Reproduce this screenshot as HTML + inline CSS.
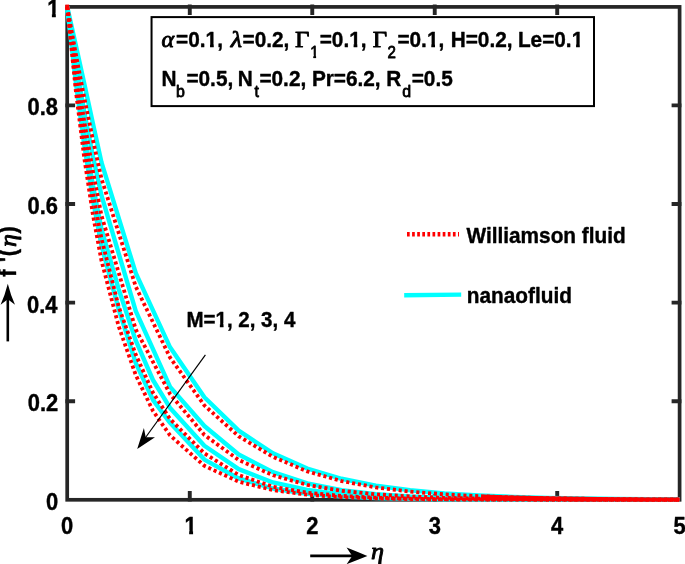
<!DOCTYPE html>
<html lang="en"><head><meta charset="utf-8"><title>Velocity profile f'(η) for different M</title>
<style>html,body{margin:0;padding:0;background:#fff}body{width:685px;height:564px;overflow:hidden}svg{display:block}text{font-family:"Liberation Sans",sans-serif;font-weight:bold;fill:#000;stroke:#000;stroke-width:0.4px;stroke-linejoin:round}.gi{font-family:"Liberation Serif",serif;font-style:italic;font-weight:bold}.gu{font-family:"Liberation Serif",serif;font-weight:normal;stroke-width:0.9px}.gub{font-family:"Liberation Serif",serif;font-weight:bold}.gr{font-family:"Liberation Serif",serif;font-style:italic;font-weight:normal;stroke-width:0.85px}.sub{font-weight:normal;stroke-width:0.8px}</style></head><body>
<svg width="685" height="564" viewBox="0 0 685 564">
<rect width="685" height="564" fill="#fff"/>
<defs><clipPath id="one"><path d="M-5 -90H70V-17H39V5H21.3V-17H-5Z"/></clipPath></defs>
<g stroke="#262626" stroke-width="3.7" fill="none" stroke-linecap="butt">
<rect x="67.20" y="6.90" width="612.40" height="492.90"/>
</g><g stroke="#262626" stroke-width="3.9" fill="none" stroke-linecap="butt">
<path d="M189.78 501.60V491.00 M189.78 4.60V15.10"/>
<path d="M312.26 501.60V491.00 M312.26 4.60V15.10"/>
<path d="M434.74 501.60V491.00 M434.74 4.60V15.10"/>
<path d="M557.22 501.60V491.00 M557.22 4.60V15.10"/>
<path d="M65.40 401.20H75.10 M681.40 401.20H671.60"/>
<path d="M65.40 302.60H75.10 M681.40 302.60H671.60"/>
<path d="M65.40 204.00H75.10 M681.40 204.00H671.60"/>
<path d="M65.40 105.40H75.10 M681.40 105.40H671.60"/>
</g>
<g fill="none" stroke-linejoin="round">
<polyline points="67.20,6.80 75.77,44.88 84.35,84.03 92.92,123.44 101.49,162.36 135.79,273.19 170.08,347.32 204.38,397.26 238.67,430.70 272.97,453.27 307.26,468.51 341.56,478.78 375.85,485.68 410.14,490.29 444.44,493.39 478.73,495.48 513.03,496.89 547.32,497.84 581.62,498.48 615.91,498.91 650.20,499.20 679.60,499.37" stroke="#00ffff" stroke-width="4.4"/>
<polyline points="67.20,6.80 75.77,62.78 84.35,112.41 92.92,156.40 101.49,195.40 135.79,311.11 170.08,386.83 204.38,426.03 238.67,454.49 272.97,472.11 307.26,483.45 341.56,490.27 375.85,494.30 410.14,496.46 444.44,497.77 478.73,498.57 513.03,499.05 547.32,499.35 581.62,499.53 615.91,499.63 650.20,499.70 679.60,499.73" stroke="#00ffff" stroke-width="4.4"/>
<polyline points="67.20,6.80 75.77,75.42 84.35,134.48 92.92,185.33 101.49,229.10 118.64,289.10 135.79,340.74 152.94,380.00 170.08,407.92 204.38,445.70 238.67,469.10 272.97,482.47 307.26,489.88 341.56,494.12 375.85,496.55 410.14,497.94 444.44,498.74 478.73,499.19 513.03,499.45 547.32,499.60 581.62,499.69 615.91,499.73 650.20,499.76 679.60,499.78" stroke="#00ffff" stroke-width="4.4"/>
<polyline points="67.20,6.80 75.77,82.02 84.35,145.76 92.92,199.78 101.49,245.55 118.64,309.06 135.79,363.06 152.94,399.87 170.08,422.84 204.38,459.60 238.67,478.45 272.97,488.49 307.26,493.77 341.56,496.59 375.85,498.09 410.14,498.89 444.44,499.31 478.73,499.54 513.03,499.66 547.32,499.73 581.62,499.76 615.91,499.78 650.20,499.79 679.60,499.79" stroke="#00ffff" stroke-width="4.4"/>
<polyline points="483.63,496.36 513.03,497.40 547.32,498.21 581.62,498.74 615.91,499.10 650.20,499.33 679.60,499.47" stroke="#ff0000" stroke-width="3.8"/>
<polyline points="67.20,6.80 75.77,53.82 84.35,98.22 92.92,139.86 101.49,178.68 135.79,286.73 170.08,357.59 204.38,405.41 238.67,436.31 272.97,456.80 307.26,471.38 341.56,481.05 375.85,487.45 410.14,491.60 444.44,494.36 478.73,496.19 513.03,497.40 547.32,498.21 581.62,498.74 615.91,499.10 650.20,499.33 679.60,499.47" stroke="#ff0000" stroke-width="3.8" stroke-dasharray="3.1 2.8"/>
<polyline points="67.20,6.80 75.77,67.16 84.35,121.92 92.92,171.30 101.49,215.58 135.79,329.49 170.08,394.08 204.38,434.94 238.67,460.02 272.97,475.23 307.26,484.89 341.56,490.76 375.85,494.31 410.14,496.47 444.44,497.78 478.73,498.58 513.03,499.06 547.32,499.35 581.62,499.53 615.91,499.63 650.20,499.70 679.60,499.73" stroke="#ff0000" stroke-width="3.8" stroke-dasharray="3.1 2.8"/>
<polyline points="67.20,6.80 75.77,79.18 84.35,140.94 92.92,193.65 101.49,238.63 118.64,306.56 135.79,354.77 152.94,392.62 170.08,419.07 204.38,453.35 238.67,474.98 272.97,486.73 307.26,492.67 341.56,495.90 375.85,497.67 410.14,498.64 444.44,499.17 478.73,499.45 513.03,499.61 547.32,499.70 581.62,499.74 615.91,499.77 650.20,499.78 679.60,499.79" stroke="#ff0000" stroke-width="3.8" stroke-dasharray="3.1 2.8"/>
<polyline points="67.20,6.80 75.77,90.26 84.35,158.58 92.92,214.66 101.49,260.81 118.64,326.19 135.79,375.19 152.94,410.83 170.08,435.45 204.38,465.81 238.67,481.74 272.97,490.06 307.26,494.74 341.56,497.17 375.85,498.43 410.14,499.09 444.44,499.43 478.73,499.61 513.03,499.70 547.32,499.75 581.62,499.77 615.91,499.79 650.20,499.79 679.60,499.80" stroke="#ff0000" stroke-width="3.8" stroke-dasharray="3.1 2.8"/>
<rect x="65.3" y="4.6" width="3.9" height="4.8" fill="#ff0000" stroke="none"/>
</g>
<g>
<g transform="translate(47.24 16.80) scale(0.9450 1)">
<g transform="translate(0.00 0) scale(0.2320)"><text font-size="100" clip-path="url(#one)" style="stroke-width:1.72px">1</text></g>
</g>
<text transform="translate(27.48 115.40) scale(0.9450 1)" font-size="23.20">0.8</text>
<text transform="translate(27.59 214.00) scale(0.9450 1)" font-size="23.20">0.6</text>
<text transform="translate(26.94 312.60) scale(0.9450 1)" font-size="23.20">0.4</text>
<text transform="translate(27.70 411.20) scale(0.9450 1)" font-size="23.20">0.2</text>
<text transform="translate(46.01 509.80) scale(0.9450 1)" font-size="23.20">0</text>
<text transform="translate(61.12 533.90) scale(0.9450 1)" font-size="23.20">0</text>
<g transform="translate(184.51 533.90) scale(0.9450 1)">
<g transform="translate(0.00 0) scale(0.2320)"><text font-size="100" clip-path="url(#one)" style="stroke-width:1.72px">1</text></g>
</g>
<text transform="translate(306.13 533.90) scale(0.9450 1)" font-size="23.20">2</text>
<text transform="translate(428.69 533.90) scale(0.9450 1)" font-size="23.20">3</text>
<text transform="translate(550.93 533.90) scale(0.9450 1)" font-size="23.20">4</text>
<text transform="translate(673.49 533.90) scale(0.9450 1)" font-size="23.20">5</text>
</g>
<rect x="151.55" y="17.1" width="442.45" height="89" fill="#fff" stroke="#000" stroke-width="2"/>
<g>
<text class="gr" transform="translate(161.48 47.40) scale(1.0400 1)" font-size="23.20">α</text>
<g transform="translate(176.12 47.40) scale(0.9450 1)">
<text x="0.00" y="0" font-size="22.00" xml:space="preserve" style="white-space:pre">=0.</text>
<g transform="translate(31.20 0) scale(0.2200)"><text font-size="100" clip-path="url(#one)" style="stroke-width:1.82px">1</text></g>
<text x="43.43" y="0" font-size="22.00" xml:space="preserve" style="white-space:pre">,</text>
</g>
<text class="gr" transform="translate(230.85 47.40) scale(1.1400 1)" font-size="22.70">λ</text>
<text transform="translate(242.52 47.40) scale(0.9450 1)" font-size="22.00">=0.2,</text>
<text class="gu" transform="translate(295.05 47.40) scale(1.0600 1)" font-size="23.50">Γ</text>
<g transform="translate(310.17 57.60) scale(0.9000 1)">
<g transform="translate(0.00 0) scale(0.1680)"><text class="sub" font-size="100" clip-path="url(#one)" style="stroke-width:4.76px">1</text></g>
</g>
<g transform="translate(319.72 47.40) scale(0.9450 1)">
<text x="0.00" y="0" font-size="22.00" xml:space="preserve" style="white-space:pre">=0.</text>
<g transform="translate(31.20 0) scale(0.2200)"><text font-size="100" clip-path="url(#one)" style="stroke-width:1.82px">1</text></g>
<text x="43.43" y="0" font-size="22.00" xml:space="preserve" style="white-space:pre">,</text>
</g>
<text class="gu" transform="translate(372.65 47.40) scale(1.0600 1)" font-size="23.50">Γ</text>
<text class="sub" transform="translate(387.44 57.60) scale(0.9000 1)" font-size="16.80">2</text>
<g transform="translate(397.42 47.40) scale(0.9450 1)">
<text x="0.00" y="0" font-size="22.00" xml:space="preserve" style="white-space:pre">=0.</text>
<g transform="translate(31.20 0) scale(0.2200)"><text font-size="100" clip-path="url(#one)" style="stroke-width:1.82px">1</text></g>
<text x="43.43" y="0" font-size="22.00" xml:space="preserve" style="white-space:pre">,</text>
</g>
<text transform="translate(450.70 47.40) scale(0.9450 1)" font-size="22.00">H=0.2,</text>
<g transform="translate(517.90 47.40) scale(0.9450 1)">
<text x="0.00" y="0" font-size="22.00" xml:space="preserve" style="white-space:pre">Le=0.</text>
<g transform="translate(56.87 0) scale(0.2200)"><text font-size="100" clip-path="url(#one)" style="stroke-width:1.82px">1</text></g>
</g>
</g><g>
<text transform="translate(161.40 86.40) scale(0.9450 1)" font-size="22.00">N</text>
<text class="sub" transform="translate(176.06 96.60) scale(0.9500 1)" font-size="16.80">b</text>
<text transform="translate(186.42 86.40) scale(0.9450 1)" font-size="22.00">=0.5,</text>
<text transform="translate(237.80 86.40) scale(0.9450 1)" font-size="22.00">N</text>
<text class="sub" transform="translate(254.46 96.60) scale(0.9500 1)" font-size="16.80">t</text>
<text transform="translate(259.42 86.40) scale(0.9450 1)" font-size="22.00">=0.2,</text>
<text transform="translate(311.90 86.40) scale(0.9450 1)" font-size="22.00">Pr=6.2,</text>
<text transform="translate(386.20 86.40) scale(0.9450 1)" font-size="22.00">R</text>
<text class="sub" transform="translate(402.22 96.60) scale(0.9500 1)" font-size="16.80">d</text>
<text transform="translate(411.72 86.40) scale(0.9450 1)" font-size="22.00">=0.5</text>
</g>
<path d="M407 234.3H459" stroke="#ff0000" stroke-width="4.6" stroke-dasharray="2.7 2.4" fill="none"/>
<text transform="translate(466.55 242.70) scale(0.9450 1)" font-size="22.00">Williamson fluid</text>
<path d="M404.2 295.3L461.2 294.6" stroke="#00ffff" stroke-width="4.4" fill="none"/>
<text transform="translate(466.85 303.00) scale(0.9450 1)" font-size="22.00">nanaofluid</text>
<g transform="translate(186.41 327.10) scale(0.9330 1)">
<text x="0.00" y="0" font-size="22.00" xml:space="preserve" style="white-space:pre">M=</text>
<g transform="translate(31.17 0) scale(0.2200)"><text font-size="100" clip-path="url(#one)" style="stroke-width:1.82px">1</text></g>
<text x="43.41" y="0" font-size="22.00" xml:space="preserve" style="white-space:pre">, 2, 3, 4</text>
</g>
<path d="M205.4 354.9L143 441" stroke="#000" stroke-width="1.2" fill="none"/>
<path d="M137.2 448.9L143.9 427.9L145.7 437.2L155 437.2Z" fill="#000"/>
<path d="M7.8 341.4V298" stroke="#000" stroke-width="2.6" fill="none"/>
<path d="M7.8 283.8Q5 295 0.6 304.8L7.8 299.3L15 304.8Q10.6 295 7.8 283.8Z" fill="#000"/>
<g transform="translate(15.9 276.6) rotate(-90)">
<text transform="translate(-0.18 0.00) scale(0.9450 1)" font-size="23.00">f</text>
<text transform="translate(14.46 0.00) scale(0.9450 1)" font-size="23.00">'</text>
<text transform="translate(20.41 0.00) scale(0.9450 1)" font-size="23.00">(</text>
<text class="gr" transform="translate(29.68 0.00) scale(1.1000 1)" font-size="23.80">η</text>
<text transform="translate(43.15 0.00) scale(0.9450 1)" font-size="23.00">)</text>
</g>
<path d="M310.2 555.9H354" stroke="#000" stroke-width="2.6" fill="none"/>
<path d="M367.4 555.9Q357.5 552 346.6 547.6L352.2 555.9L346.6 564.2Q357.5 559.8 367.4 555.9Z" fill="#000"/>
<text class="gr" transform="translate(371.08 558.90) scale(1.1000 1)" font-size="23.80">η</text>
</svg>
</body></html>
